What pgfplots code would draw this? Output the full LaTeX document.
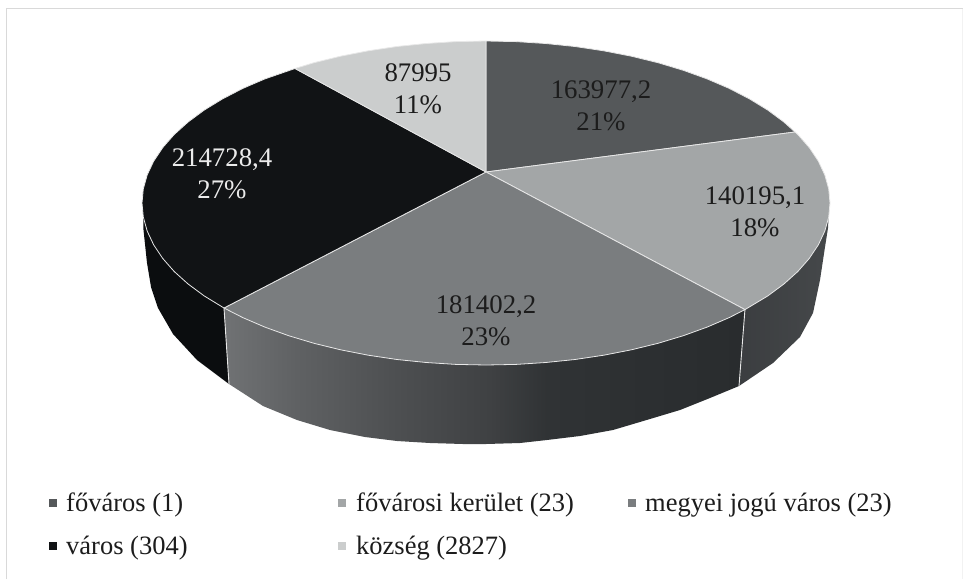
\documentclass[border=0pt]{standalone}
\usepackage{pgfplots}
\pgfplotsset{compat=1.18}
\usepackage{fontspec}
\setmainfont{Liberation Serif}
\definecolor{cA}{HTML}{55585A}
\definecolor{cB}{HTML}{A3A6A7}
\definecolor{cC}{HTML}{7A7D7F}
\definecolor{cD}{HTML}{111315}
\definecolor{cE}{HTML}{CBCDCD}
\definecolor{edge}{HTML}{E8E8E8}
\definecolor{frame}{HTML}{D9D9D9}
\definecolor{txt}{HTML}{1C1C1C}
\definecolor{wallL}{HTML}{0B0D0F}
\definecolor{w1}{HTML}{707274}
\definecolor{w2}{HTML}{5F6163}
\definecolor{w3}{HTML}{4D4F51}
\definecolor{w4}{HTML}{3F4143}
\definecolor{w5}{HTML}{303335}
\definecolor{w6}{HTML}{2C2F31}
\definecolor{w7}{HTML}{292C2E}
\definecolor{wd}{HTML}{37393C}
\definecolor{we}{HTML}{45484A}
\pgfdeclarehorizontalshading{wallmid}{100bp}{color(0bp)=(w1); color(25bp)=(w1); color(32bp)=(w2); color(41.6bp)=(w3); color(50.5bp)=(w4); color(56bp)=(w5); color(65.6bp)=(w6); color(75bp)=(w7); color(100bp)=(w7)}
\begin{document}
\begin{tikzpicture}
\begin{axis}[
  scale only axis, width=963pt, height=579pt,
  xmin=0, xmax=963, ymin=0, ymax=579, y dir=reverse,
  axis lines=none, clip=true,
  every axis plot/.append style={line join=round},
]
% page extent
\addplot[draw=none, forget plot] coordinates {(0,0) (963,579)};
% frame
\addplot[frame, line width=1.5pt, forget plot] coordinates {(6.5,579) (6.5,8.5) (963,8.5)};
\addplot[frame!35, line width=1pt, forget plot] coordinates {(962,8.5) (962,579)};
% side walls
\addplot[fill=wallL, draw=none, forget plot] coordinates {
 (143,210) (143.5,230) (147,263) (151,287) (158,308) (173,334) (197,360) (229,384) (224,308) (300,250) (143,210)};
\addplot[draw=none, forget plot, shade, shading=wallmid] coordinates {
 (224,308) (229,384) (263,406) (297,420) (330,430) (365,437) (397,441) (430,443) (463,444) (486,444)
 (520,443) (547,440) (580,436) (613,430) (650,419) (680,410) (710,398) (739,386) (745,309) (486,300) (224,308)};
\addplot[draw=none, forget plot, left color=wd, right color=we] coordinates {
 (745,309) (739,386) (773,363) (800,337) (813,313) (820,280) (825,247) (828,228) (829,210) (700,250) (745,309)};
% wall separators
\addplot[edge, line width=0.9pt, forget plot] coordinates {(224,308) (229,384)};
\addplot[edge, line width=0.9pt, forget plot] coordinates {(745,309) (739,386)};
% top faces
\addplot[fill=cA, draw=edge, line width=0.8pt, forget plot] coordinates {
 (486,172) (486,41) (516,41.6) (545.7,43.5) (575,46.5) (603.7,50.8) (631.4,56.2) (658,62.7) (683.3,70.3)
 (707.1,78.9) (729.2,88.4) (749.5,98.9) (767.8,110.1) (783.9,122) (795,132) (486,172)};
\addplot[fill=cB, draw=edge, line width=0.8pt, forget plot] coordinates {
 (486,172) (795,132) (797.8,134.5) (809.3,147.6) (818.3,161.1) (824.8,174.9) (828.7,188.9) (830,203)
 (828.7,217.1) (824.8,231.1) (818.3,244.9) (809.3,258.4) (797.8,271.5) (783.9,284) (767.8,295.9) (745,309.6) (486,172)};
\addplot[fill=cC, draw=edge, line width=0.8pt, forget plot] coordinates {
 (486,172) (745,309.6) (729.2,317.6) (707.1,327.1) (683.3,335.7) (658,343.3) (631.4,349.8) (603.7,355.2)
 (575,359.5) (545.7,362.5) (516,364.4) (486,365) (456,364.4) (426.3,362.5) (397,359.5) (368.3,355.2)
 (340.6,349.8) (314,343.3) (288.7,335.7) (264.9,327.1) (242.8,317.6) (224,308) (486,172)};
\addplot[fill=cD, draw=edge, line width=0.8pt, forget plot] coordinates {
 (486,172) (224,308) (204.2,295.9) (188.1,284) (174.2,271.5) (162.7,258.4) (153.7,244.9) (147.2,231.1)
 (143.3,217.1) (142,203) (143.3,188.9) (147.2,174.9) (153.7,161.1) (162.7,147.6) (174.2,134.5) (188.1,122)
 (204.2,110.1) (222.5,98.9) (242.8,88.4) (264.9,78.9) (295,68.5) (486,172)};
\addplot[fill=cE, draw=edge, line width=0.8pt, forget plot] coordinates {
 (486,172) (295,68.5) (314,62.7) (340.6,56.2) (368.3,50.8) (397,46.5) (426.3,43.5) (456,41.6) (486,41) (486,172)};
% legend markers
\addplot[only marks, mark=square*, mark size=3.7pt, mark options={draw=cA, fill=cA, line width=0pt}, forget plot] coordinates {(53,503)};
\addplot[only marks, mark=square*, mark size=3.7pt, mark options={draw=cB, fill=cB, line width=0pt}, forget plot] coordinates {(342,503)};
\addplot[only marks, mark=square*, mark size=3.7pt, mark options={draw=cC, fill=cC, line width=0pt}, forget plot] coordinates {(632,503)};
\addplot[only marks, mark=square*, mark size=3.7pt, mark options={draw=cD, fill=cD, line width=0pt}, forget plot] coordinates {(53,546)};
\addplot[only marks, mark=square*, mark size=3.7pt, mark options={draw=cE, fill=cE, line width=0pt}, forget plot] coordinates {(342,546)};
% data labels
\tikzset{dl/.style={align=center, font=\fontsize{26.8}{31.5}\selectfont, inner sep=0pt},
         lg/.style={anchor=base west, font=\fontsize{26.5}{30}\selectfont, inner sep=0pt, text=txt}}
\node[dl, text=txt] at (axis cs:601,106) {163977,2\\21\%};
\node[dl, text=txt] at (axis cs:755,212) {140195,1\\18\%};
\node[dl, text=txt] at (axis cs:486,321) {181402,2\\23\%};
\node[dl, text=white!92!black] at (axis cs:222,174) {214728,4\\27\%};
\node[dl, text=txt] at (axis cs:418,89) {87995\\11\%};
% legend text
\node[lg] at (axis cs:66,511) {főváros (1)};
\node[lg] at (axis cs:356,511) {fővárosi kerület (23)};
\node[lg] at (axis cs:645,511) {megyei jogú város (23)};
\node[lg] at (axis cs:66,554) {város (304)};
\node[lg] at (axis cs:356,554) {község (2827)};
\end{axis}
\end{tikzpicture}
\end{document}
